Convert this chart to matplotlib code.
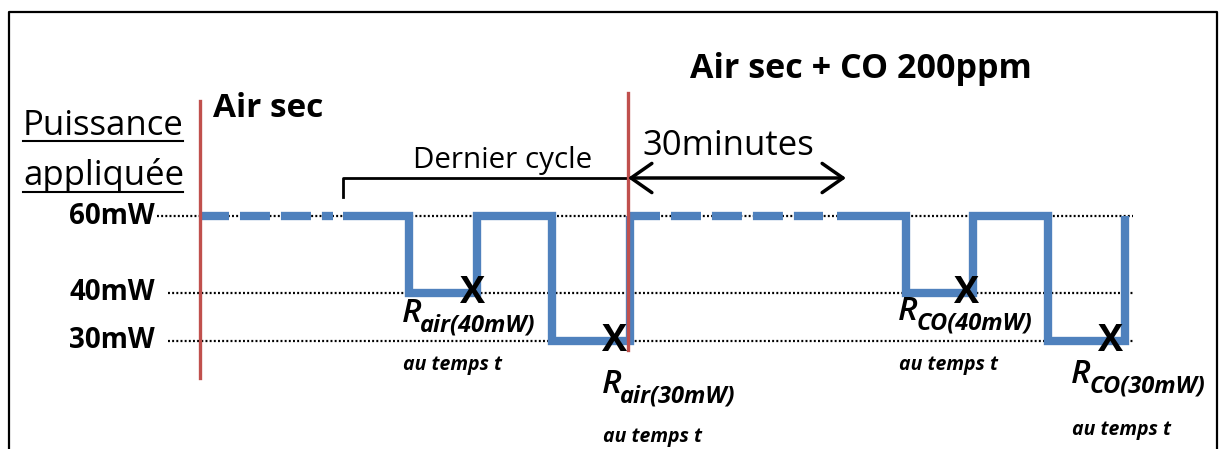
import matplotlib.pyplot as plt

plt.rcParams['font.family'] = ['Open Sans', 'DejaVu Sans']
plt.rcParams['lines.scale_dashes'] = False

# power levels (mW) and the row each one sits on in the schematic
levels = [60, 40, 30]
level_labels = ['60mW', '40mW', '30mW']
row_y = {60: 216, 40: 293, 30: 341}

# time axis (schematic units); dashed parts = "waiting" 60mW periods
air_dash_t = [199, 333]
air_t = [343, 409, 409, 477, 477, 552, 552, 630, 630]
air_p = [60, 60, 40, 40, 60, 60, 30, 30, 60]
co_dash_t = [630, 823]
co_t = [837, 906, 906, 973, 973, 1048, 1048, 1125, 1125]
co_p = [60, 60, 40, 40, 60, 60, 30, 30, 60]

# measurement points (time, power)
meas_t = [472, 615, 967, 1111]
meas_p = [40, 30, 40, 30]
meas_sub = ['air(40mW)', 'air(30mW)', 'CO(40mW)', 'CO(30mW)']

# gas switch times
switch_t = [200, 628]

blue = '#4F81BD'
red = '#C0504D'

fig = plt.figure(figsize=(12.2, 4.49), dpi=100)
ax = fig.add_axes([0, 0, 1, 1])
ax.set_xlim(0, 1220)
ax.set_ylim(449, 0)
ax.axis('off')

# frame
ax.plot([9, 9, 1217, 1217], [460, 12, 12, 460], color='black', lw=1.6)

# dotted reference lines
for p, lab in zip(levels, level_labels):
    x0 = 157 if p == 60 else 168
    ax.plot([x0, 1133], [row_y[p]] * 2, color='black', lw=1.6,
            dashes=(1.4, 1.6), zorder=1)
    ax.text(155, row_y[p], lab, ha='right', va='center', fontsize=20,
            fontweight='bold')

# signal
lw_sig = 6
ax.plot(air_dash_t, [row_y[60]] * 2, color=blue, lw=lw_sig, dashes=(21.6, 7.9),
        zorder=2)
ax.plot(co_dash_t, [row_y[60]] * 2, color=blue, lw=lw_sig, dashes=(21.6, 7.9),
        zorder=2)
ax.plot(air_t, [row_y[p] for p in air_p], color=blue, lw=lw_sig,
        solid_joinstyle='miter', solid_capstyle='butt', zorder=2)
ax.plot(co_t, [row_y[p] for p in co_p], color=blue, lw=lw_sig,
        solid_joinstyle='miter', solid_capstyle='butt', zorder=2)

# gas switch lines
ax.plot([switch_t[0]] * 2, [101, 378], color=red, lw=2.4, zorder=3)
ax.plot([switch_t[1]] * 2, [93, 350], color=red, lw=2.4, zorder=3)

# measurement marks and labels
r_y = [322, 393, 320, 383]
r_x = [402, 602, 898, 1071]
t_y = [370, 442, 370, 435]
for t, p, sub, rx, ry, ty in zip(meas_t, meas_p, meas_sub, r_x, r_y, t_y):
    ax.text(t, row_y[p], 'X', ha='center', va='center', fontsize=27,
            fontweight='bold', zorder=4)
    rt = ax.text(rx, ry, 'R', fontsize=24, style='italic',
                 fontweight='semibold', va='baseline')
    ax.annotate(sub, xy=(1, 0), xycoords=rt, xytext=(-1, -1),
                textcoords='offset points', fontsize=17, style='italic',
                fontweight='bold', va='baseline')
    ax.text(rx + 1, ty, 'au temps t', fontsize=14, style='italic',
            fontweight='bold', va='baseline')

# y title, underlined
ax.text(23, 135, 'Puissance', fontsize=25, va='baseline')
ax.text(23, 185, 'appliquée', fontsize=25, va='baseline')
ax.plot([23, 183], [141, 141], color='black', lw=1.5)
ax.plot([23, 183], [192, 192], color='black', lw=1.5)

# phase titles
ax.text(213, 117, 'Air sec', fontsize=24, fontweight='bold', va='baseline')
ax.text(690, 78, 'Air sec + CO 200ppm', fontsize=24.5, fontweight='bold',
        va='baseline')

# last cycle bracket
ax.plot([343, 343, 628, 628], [197, 178, 178, 197], color='black', lw=2)
ax.text(413, 168, 'Dernier cycle', fontsize=21.3, va='baseline')

# 30 minutes arrow
ax.annotate('', xy=(846, 178), xytext=(628, 178),
            arrowprops=dict(arrowstyle='<->,head_length=0.5,head_width=0.35',
                            lw=2.5, color='black', mutation_scale=30,
                            shrinkA=0, shrinkB=0))
ax.text(642, 155, '30minutes', fontsize=25, va='baseline')

fig.savefig('out.png', dpi=100)
